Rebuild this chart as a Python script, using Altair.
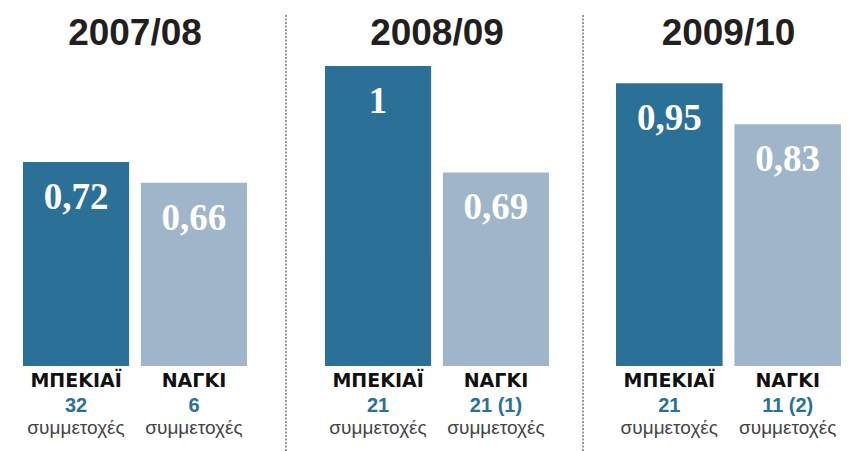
import altair as alt
import pandas as pd

# ---- data ----
seasons = ["2007/08", "2008/09", "2009/10"]
players = ["ΜΠΕΚΙΑΪ", "ΝΑΓΚΙ"]
ratios = [[0.72, 0.66], [1.0, 0.69], [0.95, 0.83]]
ratio_text = [["0,72", "0,66"], ["1", "0,69"], ["0,95", "0,83"]]
apps_text = [["32", "6"], ["21", "21 (1)"], ["21", "11 (2)"]]
apps_word = "συμμετοχές"

# ---- layout / style ----
bar_colors = ["#2a7097", "#9fb5c9"]
panel_widths = [286, 297, 276]
band_ranges = [[23, 247], [39, 263], [33, 258]]
y_domain = [0.126, 1.0]
y_range = [366, 66]
H = 451


def panel(i):
    df = pd.DataFrame({
        "player": players,
        "ratio": ratios[i],
        "label": ratio_text[i],
        "apps": apps_text[i],
        "word": [apps_word] * len(players),
    })
    x = alt.X("player:N", sort=players, axis=None,
              scale=alt.Scale(domain=players, range=band_ranges[i],
                              paddingInner=0.1, paddingOuter=0))
    y = alt.Y("ratio:Q", axis=None,
              scale=alt.Scale(domain=y_domain, range=y_range, zero=False, clamp=True))
    base = alt.Chart(df)
    bars = base.mark_bar().encode(
        x=x, y=y, y2=alt.datum(y_domain[0]),
        color=alt.Color("player:N", scale=alt.Scale(domain=players, range=bar_colors), legend=None),
    )
    vals = base.mark_text(font="Liberation Serif", fontWeight="bold", fontSize=37,
                          color="white", baseline="alphabetic", dy=47).encode(
        x=x, y=y, text="label:N")
    names = base.mark_text(font="DejaVu Sans", fontWeight="bold", fontSize=19,
                           color="#111111", baseline="alphabetic").encode(
        x=x, y=alt.value(387), text="player:N")
    apps = base.mark_text(font="Liberation Sans", fontWeight="bold", fontSize=20,
                          color="#2a7097", baseline="alphabetic").encode(
        x=x, y=alt.value(412), text="apps:N")
    word = base.mark_text(font="Liberation Sans", fontSize=19,
                          color="#444444", baseline="alphabetic").encode(
        x=x, y=alt.value(434), text="word:N")
    center = (band_ranges[i][0] + band_ranges[i][1]) / 2
    title = alt.Chart(pd.DataFrame({"season": [seasons[i]]})).mark_text(
        font="Liberation Sans", fontWeight="bold", fontSize=37, color="#231f20",
        baseline="alphabetic").encode(x=alt.value(center), y=alt.value(45), text="season:N")
    layers = [bars, vals, names, apps, word, title]
    if i > 0:
        rule = alt.Chart(pd.DataFrame({"s": [0]})).mark_rule(
            color="#777777", strokeWidth=1.5, strokeDash=[2, 1.5]).encode(
            x=alt.value(0), y=alt.value(15), y2=alt.value(H))
        layers.append(rule)
    return alt.layer(*layers).properties(width=panel_widths[i], height=H)


chart = alt.hconcat(*[panel(i) for i in range(3)], spacing=0, bounds="flush").properties(
    padding=0, background="white"
).configure_view(stroke=None).configure_concat(spacing=0)

chart.save("out.html", embed_options={"renderer": "svg", "actions": False})
